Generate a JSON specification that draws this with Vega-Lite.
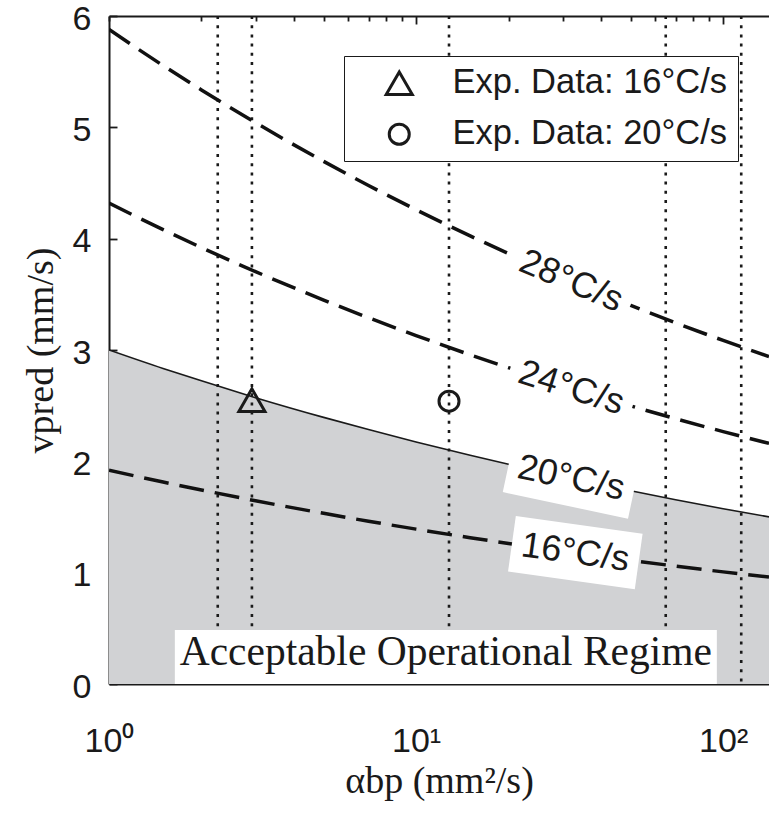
{
  "$schema": "https://vega.github.io/schema/vega-lite/v6.json",
  "width": 660,
  "height": 668,
  "autosize": {"type": "none"},
  "padding": {"left": 109, "top": 16, "right": 0, "bottom": 131},
  "background": "white",
  "config": {
    "view": {"stroke": null},
    "axis": {
      "domainColor": "#1a1a1a",
      "domainWidth": 2,
      "tickColor": "#1a1a1a",
      "tickWidth": 1.8,
      "labelColor": "#1a1a1a",
      "titleColor": "#1a1a1a",
      "labelFont": "Liberation Sans",
      "labelFontSize": 34,
      "titleFont": "Liberation Serif",
      "titleFontSize": 38,
      "titleFontWeight": "normal",
      "grid": false,
      "zindex": 1
    }
  },
  "datasets": {
    "curves": [
      {"alpha": 1, "v": 5.88, "curve": "28"},
      {"alpha": 1.5, "v": 5.555, "curve": "28"},
      {"alpha": 2, "v": 5.336, "curve": "28"},
      {"alpha": 3, "v": 5.042, "curve": "28"},
      {"alpha": 5, "v": 4.694, "curve": "28"},
      {"alpha": 7, "v": 4.478, "curve": "28"},
      {"alpha": 10, "v": 4.26, "curve": "28"},
      {"alpha": 15, "v": 4.025, "curve": "28"},
      {"alpha": 20, "v": 3.866, "curve": "28"},
      {"alpha": 30, "v": 3.652, "curve": "28"},
      {"alpha": 50, "v": 3.4, "curve": "28"},
      {"alpha": 70, "v": 3.244, "curve": "28"},
      {"alpha": 100, "v": 3.086, "curve": "28"},
      {"alpha": 141, "v": 2.941, "curve": "28"},
      {"alpha": 1, "v": 4.32, "curve": "24"},
      {"alpha": 1.5, "v": 4.081, "curve": "24"},
      {"alpha": 2, "v": 3.92, "curve": "24"},
      {"alpha": 3, "v": 3.704, "curve": "24"},
      {"alpha": 5, "v": 3.449, "curve": "24"},
      {"alpha": 7, "v": 3.29, "curve": "24"},
      {"alpha": 10, "v": 3.13, "curve": "24"},
      {"alpha": 15, "v": 2.957, "curve": "24"},
      {"alpha": 20, "v": 2.841, "curve": "24"},
      {"alpha": 30, "v": 2.683, "curve": "24"},
      {"alpha": 50, "v": 2.498, "curve": "24"},
      {"alpha": 70, "v": 2.383, "curve": "24"},
      {"alpha": 100, "v": 2.267, "curve": "24"},
      {"alpha": 141, "v": 2.161, "curve": "24"},
      {"alpha": 1, "v": 3.0, "curve": "20"},
      {"alpha": 1.5, "v": 2.834, "curve": "20"},
      {"alpha": 2, "v": 2.723, "curve": "20"},
      {"alpha": 3, "v": 2.572, "curve": "20"},
      {"alpha": 5, "v": 2.395, "curve": "20"},
      {"alpha": 7, "v": 2.285, "curve": "20"},
      {"alpha": 10, "v": 2.173, "curve": "20"},
      {"alpha": 15, "v": 2.054, "curve": "20"},
      {"alpha": 20, "v": 1.973, "curve": "20"},
      {"alpha": 30, "v": 1.863, "curve": "20"},
      {"alpha": 50, "v": 1.735, "curve": "20"},
      {"alpha": 70, "v": 1.655, "curve": "20"},
      {"alpha": 100, "v": 1.574, "curve": "20"},
      {"alpha": 141, "v": 1.501, "curve": "20"},
      {"alpha": 1, "v": 1.92, "curve": "16"},
      {"alpha": 1.5, "v": 1.814, "curve": "16"},
      {"alpha": 2, "v": 1.743, "curve": "16"},
      {"alpha": 3, "v": 1.646, "curve": "16"},
      {"alpha": 5, "v": 1.533, "curve": "16"},
      {"alpha": 7, "v": 1.462, "curve": "16"},
      {"alpha": 10, "v": 1.391, "curve": "16"},
      {"alpha": 15, "v": 1.314, "curve": "16"},
      {"alpha": 20, "v": 1.262, "curve": "16"},
      {"alpha": 30, "v": 1.192, "curve": "16"},
      {"alpha": 50, "v": 1.11, "curve": "16"},
      {"alpha": 70, "v": 1.059, "curve": "16"},
      {"alpha": 100, "v": 1.007, "curve": "16"},
      {"alpha": 141, "v": 0.961, "curve": "16"}
    ],
    "rules": [
      {"alpha": 2.26},
      {"alpha": 2.92},
      {"alpha": 12.8},
      {"alpha": 65},
      {"alpha": 114.5}
    ],
    "points": [
      {"alpha": 2.92, "v": 2.55, "series": "Exp. Data: 16°C/s"},
      {"alpha": 12.8, "v": 2.54, "series": "Exp. Data: 20°C/s"}
    ],
    "labels": [
      {"alpha": 32, "v": 3.62, "label": "28°C/s"},
      {"alpha": 32, "v": 2.66, "label": "24°C/s"},
      {"alpha": 32, "v": 1.85, "label": "20°C/s"},
      {"alpha": 33, "v": 1.18, "label": "16°C/s"},
      {"alpha": 12.5, "v": 0.243, "label": "Acceptable Operational Regime"}
    ]
  },
  "layer": [
    {
      "data": {"name": "curves"},
      "transform": [{"filter": "datum.curve == '20'"}],
      "mark": {"type": "area", "color": "#d1d2d4", "interpolate": "monotone", "clip": true},
      "encoding": {
        "x": {
          "field": "alpha", "type": "quantitative",
          "scale": {"type": "log", "domain": [1, 141], "nice": false},
          "axis": {
            "orient": "bottom", "values": [1, 10, 100],
            "labelExpr": "datum.value == 1 ? '10⁰' : (datum.value == 10 ? '10¹' : '10²')",
            "ticks": false, "labelFlush": false, "labelOverlap": false, "labelPadding": 40,
            "title": "αbp (mm²/s)", "titlePadding": 4
          }
        },
        "y": {
          "field": "v", "type": "quantitative",
          "scale": {"domain": [0, 6], "nice": false},
          "axis": {
            "orient": "left", "values": [0, 1, 2, 3, 4, 5, 6], "format": "d",
            "ticks": true, "tickSize": -8, "labelPadding": 26, "labelFlush": false, "labelOffset": 3,
            "title": "vpred (mm/s)", "titlePadding": 12
          }
        }
      }
    },
    {
      "data": {"name": "rules"},
      "mark": {"type": "rule", "strokeDash": [3, 6.2], "strokeWidth": 2.6, "color": "#1a1a1a"},
      "encoding": {
        "x": {
          "field": "alpha", "type": "quantitative",
          "axis": {
            "orient": "top", "values": [1, 2, 3, 4, 5, 6, 7, 8, 9, 10, 20, 30, 40, 50, 60, 70, 80, 90, 100],
            "labels": false, "title": null, "ticks": true,
            "tickSize": {"condition": {"test": "datum.value == 10 || datum.value == 100", "value": -8}, "value": -5}
          }
        }
      }
    },
    {
      "data": {"name": "curves"},
      "transform": [{"filter": "datum.curve != '20'"}],
      "mark": {"type": "line", "strokeDash": [25, 11], "strokeWidth": 3.5, "color": "#111111", "interpolate": "monotone", "clip": true},
      "encoding": {
        "x": {"field": "alpha", "type": "quantitative", "axis": null},
        "y": {"field": "v", "type": "quantitative"},
        "detail": {"field": "curve"}
      }
    },
    {
      "data": {"name": "curves"},
      "transform": [{"filter": "datum.curve == '20'"}],
      "mark": {"type": "line", "strokeWidth": 1.6, "color": "#1a1a1a", "interpolate": "monotone", "clip": true},
      "encoding": {
        "x": {"field": "alpha", "type": "quantitative", "axis": null},
        "y": {"field": "v", "type": "quantitative"}
      }
    },
    {
      "data": {"name": "labels"},
      "transform": [{"filter": "datum.label == '28°C/s'"}],
      "encoding": {
        "x": {"field": "alpha", "type": "quantitative", "axis": null},
        "y": {"field": "v", "type": "quantitative"}
      },
      "layer": [
        {"mark": {"type": "point", "shape": "M-1,-0.4375H1V0.4375H-1Z", "size": 16384, "filled": true, "color": "white", "opacity": 1, "strokeWidth": 0, "angle": 23}},
        {"mark": {"type": "text", "angle": 23, "font": "Liberation Sans", "fontSize": 36, "color": "#1a1a1a", "align": "center", "baseline": "middle"}, "encoding": {"text": {"field": "label"}}}
      ]
    },
    {
      "data": {"name": "labels"},
      "transform": [{"filter": "datum.label == '24°C/s'"}],
      "encoding": {
        "x": {"field": "alpha", "type": "quantitative", "axis": null},
        "y": {"field": "v", "type": "quantitative"}
      },
      "layer": [
        {"mark": {"type": "point", "shape": "M-1,-0.4375H1V0.4375H-1Z", "size": 16384, "filled": true, "color": "white", "opacity": 1, "strokeWidth": 0, "angle": 17.5}},
        {"mark": {"type": "text", "angle": 17.5, "font": "Liberation Sans", "fontSize": 36, "color": "#1a1a1a", "align": "center", "baseline": "middle"}, "encoding": {"text": {"field": "label"}}}
      ]
    },
    {
      "data": {"name": "labels"},
      "transform": [{"filter": "datum.label == '20°C/s'"}],
      "encoding": {
        "x": {"field": "alpha", "type": "quantitative", "axis": null},
        "y": {"field": "v", "type": "quantitative"}
      },
      "layer": [
        {"mark": {"type": "point", "shape": "M-1,-0.4375H1V0.4375H-1Z", "size": 16384, "filled": true, "color": "white", "opacity": 1, "strokeWidth": 0, "angle": 12}},
        {"mark": {"type": "text", "angle": 12, "font": "Liberation Sans", "fontSize": 36, "color": "#1a1a1a", "align": "center", "baseline": "middle"}, "encoding": {"text": {"field": "label"}}}
      ]
    },
    {
      "data": {"name": "labels"},
      "transform": [{"filter": "datum.label == '16°C/s'"}],
      "encoding": {
        "x": {"field": "alpha", "type": "quantitative", "axis": null},
        "y": {"field": "v", "type": "quantitative"}
      },
      "layer": [
        {"mark": {"type": "point", "shape": "M-1,-0.4375H1V0.4375H-1Z", "size": 16384, "filled": true, "color": "white", "opacity": 1, "strokeWidth": 0, "angle": 8}},
        {"mark": {"type": "text", "angle": 8, "font": "Liberation Sans", "fontSize": 36, "color": "#1a1a1a", "align": "center", "baseline": "middle"}, "encoding": {"text": {"field": "label"}}}
      ]
    },
    {
      "data": {"name": "labels"},
      "transform": [{"filter": "datum.label == 'Acceptable Operational Regime'"}],
      "encoding": {
        "x": {"field": "alpha", "type": "quantitative", "axis": null},
        "y": {"field": "v", "type": "quantitative"}
      },
      "layer": [
        {"mark": {"type": "point", "shape": "M-1,-0.0996H1V0.0996H-1Z", "size": 293764, "filled": true, "color": "white", "opacity": 1, "strokeWidth": 0}},
        {"mark": {"type": "text", "font": "Liberation Serif", "fontSize": 41.5, "color": "#1a1a1a", "align": "center", "baseline": "middle", "dy": -4}, "encoding": {"text": {"field": "label"}}}
      ]
    },
    {
      "data": {"name": "points"},
      "mark": {"type": "point", "filled": false, "strokeWidth": 3, "color": "#1a1a1a", "opacity": 1},
      "encoding": {
        "x": {"field": "alpha", "type": "quantitative", "axis": null},
        "y": {"field": "v", "type": "quantitative"},
        "shape": {
          "field": "series", "type": "nominal",
          "scale": {"domain": ["Exp. Data: 16°C/s", "Exp. Data: 20°C/s"], "range": ["triangle-up", "circle"]},
          "legend": {
            "title": null, "orient": "none", "legendX": 235, "legendY": 40,
            "strokeColor": "#1a1a1a", "fillColor": "white", "padding": 10,
            "labelFont": "Liberation Sans", "labelFontSize": 34.5, "labelColor": "#1a1a1a", "labelLimit": 400,
            "symbolSize": 500, "symbolStrokeWidth": 3, "symbolStrokeColor": "#1a1a1a",
            "symbolOffset": 28, "labelOffset": 36, "rowPadding": 15
          }
        },
        "size": {
          "field": "series", "type": "nominal",
          "scale": {"domain": ["Exp. Data: 16°C/s", "Exp. Data: 20°C/s"], "range": [680, 400]},
          "legend": {
            "title": null, "orient": "none", "legendX": 235, "legendY": 40,
            "strokeColor": "#1a1a1a", "fillColor": "white", "padding": 10,
            "labelFont": "Liberation Sans", "labelFontSize": 34.5, "labelColor": "#1a1a1a", "labelLimit": 400,
            "symbolStrokeWidth": 3, "symbolStrokeColor": "#1a1a1a",
            "symbolOffset": 28, "labelOffset": 36, "rowPadding": 15
          }
        }
      }
    }
  ],
  "resolve": {"axis": {"x": "independent"}}
}
